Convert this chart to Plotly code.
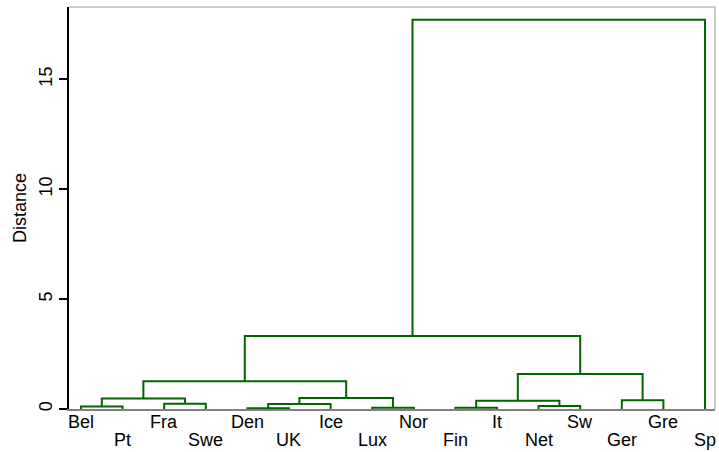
import plotly.graph_objects as go

# Leaf labels in dendrogram order
labels = ["Bel", "Pt", "Fra", "Swe", "Den", "UK", "Ice", "Lux", "Nor",
          "Fin", "It", "Net", "Sw", "Ger", "Gre", "Sp"]

# Linkage table: ids 0-15 are leaves, merge k creates cluster id 16 + k
merge_left = [4, 9, 7, 0, 11, 2, 16, 17, 13, 19, 22, 25, 23, 27, 29]
merge_right = [5, 10, 8, 1, 12, 3, 6, 20, 14, 21, 18, 26, 24, 28, 15]
merge_height = [0.03, 0.06, 0.06, 0.11, 0.14, 0.24, 0.23, 0.38, 0.40,
                0.48, 0.50, 1.26, 1.59, 3.32, 17.71]

y_ticks = [0, 5, 10, 15]

LINE = "#006400"
FONT = "Liberation Sans, Arial, Helvetica, sans-serif"

n = len(labels)
pos = {i: i + 1 for i in range(n)}
hgt = {i: 0.0 for i in range(n)}

xs, ys = [], []
for k, (a, b, h) in enumerate(zip(merge_left, merge_right, merge_height)):
    xs += [pos[a], pos[a], pos[b], pos[b], None]
    ys += [hgt[a], h, h, hgt[b], None]
    cid = n + k
    pos[cid] = (pos[a] + pos[b]) / 2
    hgt[cid] = h

fig = go.Figure()
fig.add_trace(go.Scatter(x=xs, y=ys, mode="lines",
                         line=dict(color=LINE, width=2),
                         hoverinfo="skip", showlegend=False))

# Leaf labels staggered over two rows
for i, lab in enumerate(labels):
    fig.add_annotation(x=i + 1, y=0, xref="x", yref="y", text=lab,
                       showarrow=False, xanchor="center", yanchor="middle",
                       yshift=-13 if i % 2 == 0 else -31,
                       font=dict(family=FONT, size=18, color="black"))

# Top and right frame edges
fig.add_shape(type="line", xref="paper", yref="paper", x0=0, x1=1, y0=1, y1=1,
              line=dict(color="#999999", width=1))
fig.add_shape(type="line", xref="paper", yref="paper", x0=1, x1=1, y0=0, y1=1,
              line=dict(color="#999999", width=1))

fig.update_xaxes(range=[0.712, 16.24], showgrid=False, zeroline=False,
                 showticklabels=False, ticks="",
                 showline=True, linecolor="#808080", linewidth=2)
fig.update_yaxes(range=[0, 18.29], showgrid=False, zeroline=False,
                 tickvals=y_ticks, ticktext=[str(v) for v in y_ticks],
                 tickangle=-90, ticks="outside", ticklen=8, tickwidth=2,
                 tickcolor="black", ticklabelstandoff=0,
                 tickfont=dict(family=FONT, size=18, color="black"),
                 showline=True, linecolor="black", linewidth=2,
                 title=dict(text="Distance", standoff=4,
                            font=dict(family=FONT, size=18, color="black")))

fig.update_layout(width=719, height=452,
                  margin=dict(l=69, r=4, t=7, b=43),
                  paper_bgcolor="white", plot_bgcolor="white")

fig.write_html("out.html")
